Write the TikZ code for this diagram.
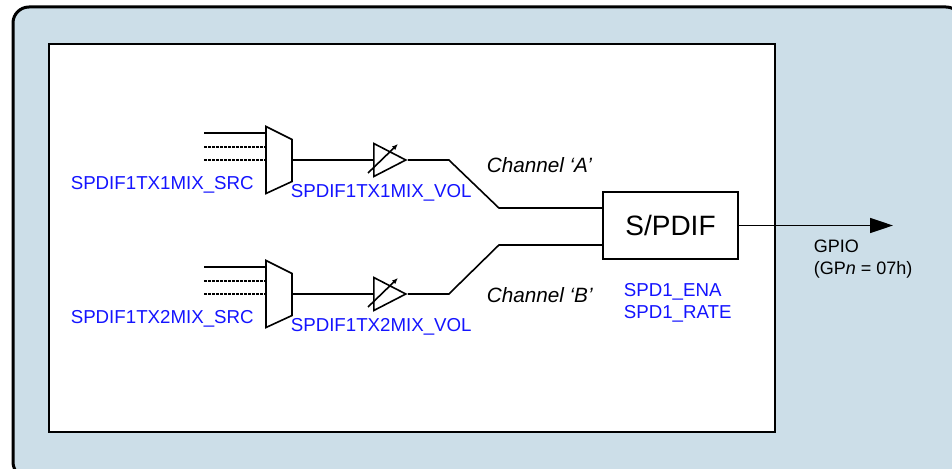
\documentclass[tikz,border=0pt]{standalone}
\usepackage{fontspec}
\setmainfont{Liberation Sans}
\usetikzlibrary{arrows.meta,shapes.geometric}
\definecolor{panelblue}{RGB}{204,222,232}
\definecolor{regblue}{RGB}{20,20,255}

\begin{document}
\begin{tikzpicture}[x=1pt,y=-1pt,line width=1.6pt,
  mux/.style={minimum width=26pt,minimum height=67pt,inner sep=0,outer sep=0},
  amp/.style={draw,fill=white,isosceles triangle,isosceles triangle stretches,
    minimum width=33pt,minimum height=32pt,inner sep=0,anchor=west},
  box/.style={draw,fill=white,minimum width=135pt,minimum height=67pt,
    inner sep=0,font=\fontsize{28}{30}\selectfont},
  reg/.style={text=regblue,inner sep=0,anchor=base west,font=\fontsize{18.7}{20}\selectfont},
  chan/.style={inner sep=0,anchor=base west,font=\fontsize{20.7}{22}\selectfont\itshape},
  txt/.style={inner sep=0,anchor=base west,font=\fontsize{18}{20}\selectfont},
  dots/.style={dash pattern=on 2.5pt off 1.5pt}]
  \useasboundingbox (0,0) rectangle (952,468);

  % Frame
  \draw[line width=3pt,fill=panelblue,rounded corners=16pt] (13,7) rectangle (962,478);
  \draw[line width=2pt,fill=white] (49,44) rectangle (775,432);

  % Mixer and volume, channel A
  \node[mux] (mux1) at (279,160) {};
  \draw[fill=white] (mux1.north west) -- ([yshift=-13pt]mux1.north east)
    -- ([yshift=12pt]mux1.south east) -- (mux1.south west) -- cycle;
  \coordinate (in1a) at (204,133);
  \coordinate (in1b) at (204,147);
  \coordinate (in1c) at (204,160);
  \draw (in1a) -- (in1a -| mux1.west);
  \draw[dots] (in1b) -- (in1b -| mux1.west);
  \draw[dots] (in1c) -- (in1c -| mux1.west);
  \node[amp] (amp1) at (373,160) {};
  \draw (mux1.east) -- (amp1.west);
  \draw[-{Latex[length=6pt,width=5pt]}] ([shift={(-5pt,-13pt)}]amp1.west) -- ([shift={(25pt,16pt)}]amp1.west);

  % Mixer and volume, channel B
  \node[mux] (mux2) at (279,294) {};
  \draw[fill=white] (mux2.north west) -- ([yshift=-13pt]mux2.north east)
    -- ([yshift=12pt]mux2.south east) -- (mux2.south west) -- cycle;
  \coordinate (in2a) at (204,267);
  \coordinate (in2b) at (204,281);
  \coordinate (in2c) at (204,294);
  \draw (in2a) -- (in2a -| mux2.west);
  \draw[dots] (in2b) -- (in2b -| mux2.west);
  \draw[dots] (in2c) -- (in2c -| mux2.west);
  \node[amp] (amp2) at (373,294) {};
  \draw (mux2.east) -- (amp2.west);
  \draw[-{Latex[length=6pt,width=5pt]}] ([shift={(-5pt,-13pt)}]amp2.west) -- ([shift={(25pt,16pt)}]amp2.west);

  % S/PDIF transmitter
  \node[box] (spdif) at (670.5,225.5) {S/PDIF};
  \coordinate (gpio) at (893,225.5);
  \draw (amp1.apex) -- ++(41,0) -- ++(50,48) -- ([yshift=17.5pt]spdif.west);
  \draw (amp2.apex) -- ++(41,0) -- ++(50,-49) -- ([yshift=-19.5pt]spdif.west);
  \draw[-{Triangle[length=23pt,width=15pt]}] (spdif.east) -- (gpio);

  % Labels
  \node[reg] (src1) at (70,189.5) {SPDIF1TX1MIX\_SRC};
  \node[reg] (vol1) at (290,197) {SPDIF1TX1MIX\_VOL};
  \node[reg] (src2) at (70,323.5) {SPDIF1TX2MIX\_SRC};
  \node[reg] (vol2) at (290,331) {SPDIF1TX2MIX\_VOL};
  \node[reg] (ena) at (623,296) {SPD1\_ENA};
  \node[reg] (rate) at (623,318) {SPD1\_RATE};
  \node[chan] (chanA) at (486,172) {Channel ‘A’};
  \node[chan] (chanB) at (486,302) {Channel ‘B’};
  \node[txt] (gpiolbl) at (813,252) {GPIO};
  \node[txt] (gpn) at (813,274) {(GP\textit{n} = 07h)};
\end{tikzpicture}
\end{document}
